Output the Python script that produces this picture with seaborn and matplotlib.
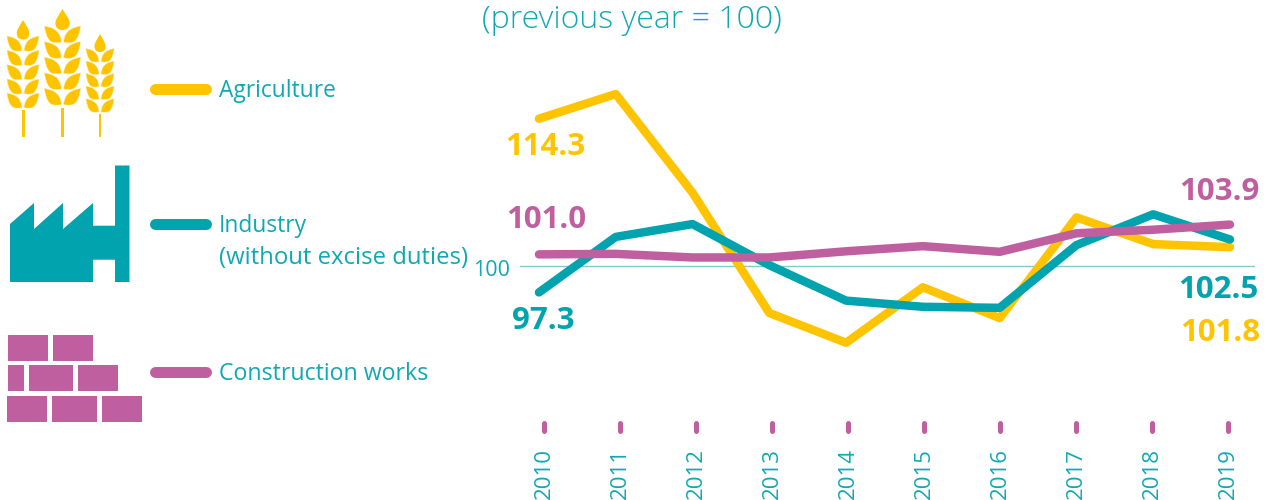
from matplotlib import pyplot as plt
from matplotlib.path import Path
from matplotlib.patches import PathPatch, Polygon, Rectangle
import seaborn as sns
import pandas as pd

years = [2010, 2011, 2012, 2013, 2014, 2015, 2016, 2017, 2018, 2019]
agriculture = [114.3, 116.7, 107.1, 95.4, 92.5, 97.9, 94.9, 104.7, 102.1, 101.8]
industry = [97.4, 102.8, 104.05, 100.05, 96.6, 96.0, 95.9, 102.0, 105.0, 102.55]
construction = [101.1, 101.15, 100.8, 100.8, 101.4, 101.9, 101.35, 103.15, 103.5, 104.0]

YELLOW = '#FFC400'
TEAL = '#00A3AE'
PINK = '#C05F9F'
TEXT = '#10A8B4'
W, H = 1270, 500

sns.set_theme(style='white')
plt.rcParams['font.family'] = ['Open Sans', 'DejaVu Sans']

df = pd.DataFrame({
    'year': years * 3,
    'value': agriculture + industry + construction,
    'series': ['Agriculture'] * 10 + ['Industry'] * 10 + ['Construction'] * 10,
})

fig = plt.figure(figsize=(W / 100, H / 100), dpi=100)

# chart axes, placed so that the years and the 100 line land where they should
left, right, top, bottom = 520, 1255, 85, 440
rect = [left / W, 1 - bottom / H, (right - left) / W, (bottom - top) / H]
ax = fig.add_axes(rect)
ax.patch.set_alpha(0)
sns.despine(ax=ax, left=True, bottom=True)
ax.set_xlim(2009.753, 2019.326)
ax.set_ylim(83.04, 117.58)

ax.axhline(100, color='#7CCBD0', lw=1, zorder=1)
sns.lineplot(data=df, x='year', y='value', hue='series', sort=False, errorbar=None,
             palette={'Agriculture': YELLOW, 'Industry': TEAL, 'Construction': PINK},
             linewidth=6.1, legend=False, ax=ax, solid_capstyle='round',
             solid_joinstyle='round', zorder=3)
ax.set_xticks([])
ax.set_yticks([])
ax.set_xlabel('')
ax.set_ylabel('')

# the year ticks sit on a slightly tighter scale than the lines in the original
tick_ax = fig.add_axes(rect)
tick_ax.patch.set_alpha(0)
sns.despine(ax=tick_ax, left=True, bottom=True)
tick_ax.set_xlim(2009.684, 2019.355)
tick_ax.set_yticks([])
for yr in years:
    tick_ax.plot([yr, yr], [0.024, 0.0465], transform=tick_ax.get_xaxis_transform(), color=PINK,
                 lw=3.6, solid_capstyle='round', clip_on=False)
tick_ax.set_xticks(years)
tick_ax.set_xticklabels(years, rotation=90, fontsize=16, color=TEXT)
tick_ax.tick_params(axis='x', length=0, pad=6)

# overlay in pixel coordinates for the icons and the texts
ov = fig.add_axes([0, 0, 1, 1], zorder=5)
ov.set_xlim(0, W)
ov.set_ylim(H, 0)
ov.axis('off')


def leaf(x, y, w, h, side):
    # outer tip at top, runs in to the stem and round the bottom
    shape = [(1, 0), (0.6, 0.1), (0.1, 0.2), (0.03, 1.0), (0.15, 1.05), (0.55, 1.1),
             (0.7, 0.9), (0.88, 0.7), (0.95, 0.35), (1, 0)]
    verts = [(x + side * px * w, y + py * h) for px, py in shape]
    codes = [Path.MOVETO] + [Path.CURVE4] * 9
    ov.add_patch(PathPatch(Path(verts, codes), fc=YELLOW, ec='#FFE9A0', lw=0.3))


def wheat(x, tip, tip_end, tip_w, rows, row_h, half_w, stem_top, stem_w):
    ov.add_patch(Rectangle((x - stem_w / 2, stem_top), stem_w, 137 - stem_top, fc=YELLOW, ec='none'))
    mid = tip + (tip_end - tip) * 0.65
    verts = [(x, tip), (x + tip_w * 0.5, tip + (mid - tip) * 0.4), (x + tip_w * 1.1, mid - 3), (x + tip_w * 1.1, mid),
             (x + tip_w * 1.1, tip_end - 1), (x + 3, tip_end), (x, tip_end),
             (x - 3, tip_end), (x - tip_w * 1.1, tip_end - 1), (x - tip_w * 1.1, mid),
             (x - tip_w * 1.1, mid - 3), (x - tip_w * 0.5, tip + (mid - tip) * 0.4), (x, tip)]
    codes = [Path.MOVETO] + [Path.CURVE4] * 12
    ov.add_patch(PathPatch(Path(verts, codes), fc=YELLOW, ec='none'))
    for r in rows:
        leaf(x - 0.6, r, half_w, row_h, -1)
        leaf(x + 0.6, r, half_w, row_h, 1)


wheat(23, 20, 39.5, 5.7, [36, 50.3, 64.6, 79, 93], 14.5, 15.5, 110, 3)
wheat(62.5, 9, 30, 6.5, [26, 41.6, 57.2, 72.8, 88.4], 16, 17.5, 108, 3)
wheat(100, 34, 52, 5, [48.5, 61, 73.5, 86, 98.7], 13, 13.5, 114, 2.5)

factory = [(10, 282), (10, 224), (34, 203), (34, 229), (63, 203), (63, 229), (93, 203), (93, 225.7),
           (115, 225.7), (115, 165.5), (129.5, 165.5), (129.5, 282), (115, 282), (115, 259.7),
           (93, 259.7), (93, 282)]
ov.add_patch(Polygon(factory, closed=True, fc=TEAL, ec='none'))

bricks = [(8, 335, 40), (53, 335, 40), (8, 365, 16), (29, 365, 44), (78, 365, 40),
          (7, 396, 40), (52, 396, 44.5), (102, 396, 40)]
for bx, by, bw in bricks:
    ov.add_patch(Rectangle((bx, by), bw, 26, fc=PINK, ec='none'))

for ky, col in [(88.5, YELLOW), (224, TEAL), (371.7, PINK)]:
    ov.plot([154.5, 205.5], [ky, ky], color=col, lw=7.9, solid_capstyle='round')

ov.text(219, 91, 'Agriculture', fontsize=16.4, color=TEXT, va='center')
ov.text(219, 226, 'Industry', fontsize=16.4, color=TEXT, va='center')
ov.text(219, 258, '(without excise duties)', fontsize=17.2, color=TEXT, va='center')
ov.text(219, 374, 'Construction works', fontsize=16.7, color=TEXT, va='center')
ov.text(632, 19.5, '(previous year = 100)', fontsize=23, color=TEXT, va='center', ha='center', fontweight='light')
ov.text(510, 270, '100', fontsize=15.5, color=TEXT, va='center', ha='right')

for lx, ly, txt, col, ha in [(505, 147, '114.3', YELLOW, 'left'), (506, 220, '101.0', PINK, 'left'),
                             (512, 321, '97.3', TEAL, 'left'), (1260, 192, '103.9', PINK, 'right'),
                             (1258, 290, '102.5', TEAL, 'right'), (1260, 333, '101.8', YELLOW, 'right')]:
    ov.text(lx, ly, txt, fontsize=22.5, fontweight='bold', color=col, va='center', ha=ha)

fig.savefig('out.png', dpi=100)
